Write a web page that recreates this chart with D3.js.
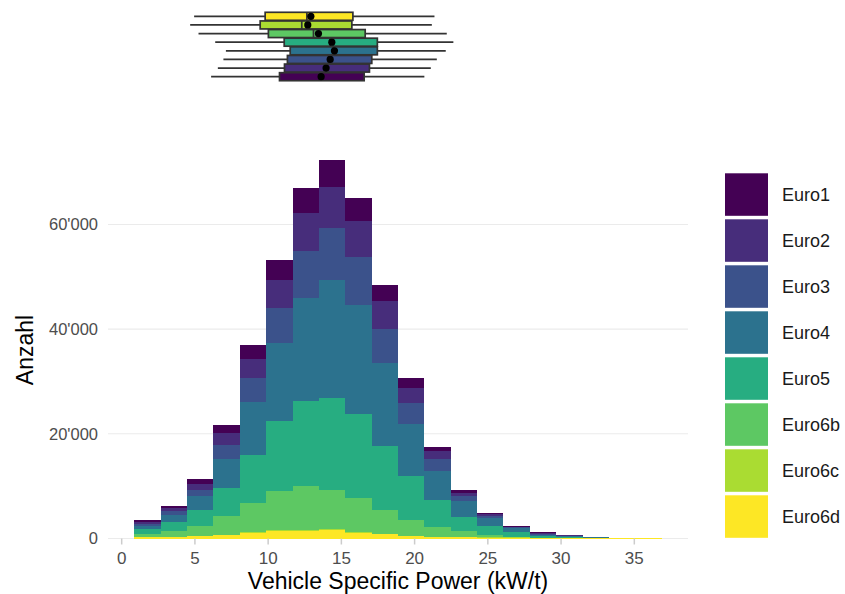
<!DOCTYPE html>
<html>
<head>
<meta charset="utf-8">
<script src="https://cdn.jsdelivr.net/npm/d3@7"></script>
<style>
  html, body { margin: 0; padding: 0; background: #ffffff; }
  svg { display: block; font-family: "Liberation Sans", Arial, sans-serif; }
</style>
</head>
<body>
<svg id="chart" width="845" height="594"></svg>
<script>
// Emission classes (stack order: first = top of each bar)
const categories = ["Euro1", "Euro2", "Euro3", "Euro4", "Euro5", "Euro6b", "Euro6c", "Euro6d"];
const colors = ["#440154", "#472D7B", "#3B528B", "#2C728E", "#27AD81", "#5DC863", "#AADC32", "#FDE725"];

// Histogram bins of vehicle specific power (kW/t)
const binWidth = 1.8;
const binStarts = [0.9, 2.7, 4.5, 6.3, 8.1, 9.9, 11.7, 13.5, 15.3, 17.1,
                   18.9, 20.7, 22.5, 24.3, 26.1, 27.9, 29.7, 31.5, 33.3, 35.1];

// Counts per bin for each class
const euro1  = [440, 370, 960, 1530, 2680, 3820, 4780, 5220, 4390, 3060, 1910, 770, 570, 190, 140, 130, 80, 10, 0, 0];
const euro2  = [380, 580, 1140, 2290, 3630, 5350, 7260, 7830, 6870, 5350, 2870, 1530, 570, 330, 120, 190, 70, 10, 0, 0];
const euro3  = [380, 760, 1140, 2670, 4580, 6680, 8970, 9940, 9180, 6490, 4010, 2290, 960, 430, 130, 170, 80, 20, 0, 0];
const euro4  = [575, 1340, 2680, 5540, 10120, 14900, 19680, 22540, 20810, 15850, 9930, 5540, 3060, 1530, 760, 300, 170, 80, 0, 0];
const euro5  = [955, 1720, 3050, 5350, 9170, 13370, 16230, 17570, 16040, 12230, 8410, 5150, 2670, 1720, 890, 260, 120, 40, 0, 0];
const euro6b = [610, 1080, 1855, 3630, 5600, 7500, 8350, 7450, 6500, 4580, 3050, 1910, 1140, 470, 150, 60, 30, 15, 0, 0];
const euro6c = [20, 30, 55, 70, 120, 150, 160, 170, 120, 80, 50, 30, 30, 20, 20, 10, 10, 5, 0, 0];
const euro6d = [230, 320, 480, 600, 1060, 1420, 1520, 1640, 1120, 780, 430, 260, 260, 180, 180, 120, 110, 110, 160, 150];

// Box plot summaries per class (kW/t)
const boxLow    = [6.14, 6.60, 6.98, 7.15, 6.42, 5.28, 4.71, 4.98];
const boxQ1     = [10.81, 11.15, 11.35, 11.54, 11.13, 10.05, 9.49, 9.83];
const boxMedian = [13.55, 13.89, 14.16, 14.47, 14.27, 13.13, 12.33, 12.68];
const boxQ3     = [16.59, 16.95, 17.11, 17.49, 17.49, 16.66, 15.75, 15.82];
const boxHigh   = [20.70, 21.14, 21.55, 22.16, 22.68, 22.23, 21.21, 21.39];
const boxMean   = [13.65, 13.99, 14.27, 14.56, 14.38, 13.47, 12.74, 12.95];

// Axis ticks
const xTicks = [0, 5, 10, 15, 20, 25, 30, 35];
const yTicks = [0, 20000, 40000, 60000];

const series = [euro1, euro2, euro3, euro4, euro5, euro6b, euro6c, euro6d];

const svg = d3.select("#chart");
const panel = { left: 108, right: 688, top: 140.8, bottom: 538.5 };

// Rows for the stack layout
const rows = binStarts.map((s, i) => {
  const r = { x0: s, x1: s + binWidth };
  categories.forEach((c, k) => { r[c] = series[k][i]; });
  return r;
});
const totals = rows.map(r => d3.sum(categories, c => r[c]));

const xMin = binStarts[0], xMax = binStarts[binStarts.length - 1] + binWidth;
const xPad = (xMax - xMin) * 0.05;
const x = d3.scaleLinear().domain([xMin - xPad, xMax + xPad]).range([panel.left, panel.right]);
const y = d3.scaleLinear().domain([0, d3.max(totals) * 1.05]).range([panel.bottom, panel.top]);
const color = d3.scaleOrdinal().domain(categories).range(colors);

// Horizontal grid lines
svg.append("g").selectAll("line").data(yTicks).join("line")
  .attr("x1", panel.left).attr("x2", panel.right)
  .attr("y1", d => y(d)).attr("y2", d => y(d))
  .attr("stroke", "#ebebeb").attr("stroke-width", 1.1);

// Stacked histogram: bottom layer is the last class
const stackKeys = categories.slice().reverse();
const stacked = d3.stack().keys(stackKeys)(rows);
svg.append("g").selectAll("g").data(stacked).join("g")
  .attr("fill", d => color(d.key))
  .selectAll("rect").data(d => d).join("rect")
  .attr("x", d => x(d.data.x0))
  .attr("width", d => x(d.data.x1) - x(d.data.x0))
  .attr("y", d => y(d[1]))
  .attr("height", d => Math.max(0, y(d[0]) - y(d[1])))
  .attr("shape-rendering", "crispEdges");

// X axis ticks and labels
const xAxis = svg.append("g").attr("transform", `translate(0,${panel.bottom})`)
  .call(d3.axisBottom(x).tickValues(xTicks).tickSize(6).tickPadding(7));
xAxis.select(".domain").remove();
xAxis.selectAll(".tick line").attr("stroke", "#cccccc").attr("stroke-width", 1.5);
xAxis.selectAll(".tick text").attr("fill", "#4d4d4d").style("font-size", "17px")
  .style("font-family", "Liberation Sans, Arial, sans-serif");

// Y axis labels
const yFmt = v => d3.format(",")(v).replace(/,/g, "'");
const yAxis = svg.append("g").attr("transform", `translate(${panel.left},0)`)
  .call(d3.axisLeft(y).tickValues(yTicks).tickFormat(yFmt).tickSize(0).tickPadding(10));
yAxis.select(".domain").remove();
yAxis.selectAll(".tick text").attr("fill", "#4d4d4d").style("font-size", "16.5px")
  .style("font-family", "Liberation Sans, Arial, sans-serif");

// Axis titles
svg.append("text").attr("x", (panel.left + panel.right) / 2).attr("y", 589)
  .attr("text-anchor", "middle").attr("fill", "#000").style("font-size", "23px")
  .text("Vehicle Specific Power (kW/t)");
svg.append("text").attr("transform", `translate(33,350) rotate(-90)`)
  .attr("text-anchor", "middle").attr("fill", "#000").style("font-size", "23px")
  .text("Anzahl");

// Marginal box plots, one row per class (Euro1 at the bottom)
const yb = d3.scalePoint().domain(categories.slice().reverse()).range([16.3, 76.7]);
const boxH = 8;
const boxes = svg.append("g");
categories.forEach((c, k) => {
  const g = boxes.append("g");
  const cy = yb(c);
  g.append("line").attr("x1", x(boxLow[k])).attr("x2", x(boxQ1[k]))
    .attr("y1", cy).attr("y2", cy).attr("stroke", "#333333").attr("stroke-width", 1.7);
  g.append("line").attr("x1", x(boxQ3[k])).attr("x2", x(boxHigh[k]))
    .attr("y1", cy).attr("y2", cy).attr("stroke", "#333333").attr("stroke-width", 1.7);
  g.append("rect").attr("x", x(boxQ1[k])).attr("y", cy - boxH / 2)
    .attr("width", x(boxQ3[k]) - x(boxQ1[k])).attr("height", boxH)
    .attr("fill", color(c)).attr("stroke", "#333333").attr("stroke-width", 1.7);
  g.append("line").attr("x1", x(boxMedian[k])).attr("x2", x(boxMedian[k]))
    .attr("y1", cy - boxH / 2).attr("y2", cy + boxH / 2)
    .attr("stroke", "#333333").attr("stroke-width", 1.7);
  g.append("circle").attr("cx", x(boxMean[k])).attr("cy", cy).attr("r", 3.6).attr("fill", "#000");
});

// Legend
const legend = svg.append("g").attr("transform", "translate(725,173.3)");
const item = legend.selectAll("g").data(categories).join("g")
  .attr("transform", (d, i) => `translate(0,${i * 46})`);
item.append("rect").attr("width", 43).attr("height", 42.5).attr("fill", d => color(d));
item.append("text").attr("x", 57).attr("y", 21.5).attr("dy", "0.35em")
  .attr("fill", "#1a1a1a").style("font-size", "18px").text(d => d);
</script>
</body>
</html>
